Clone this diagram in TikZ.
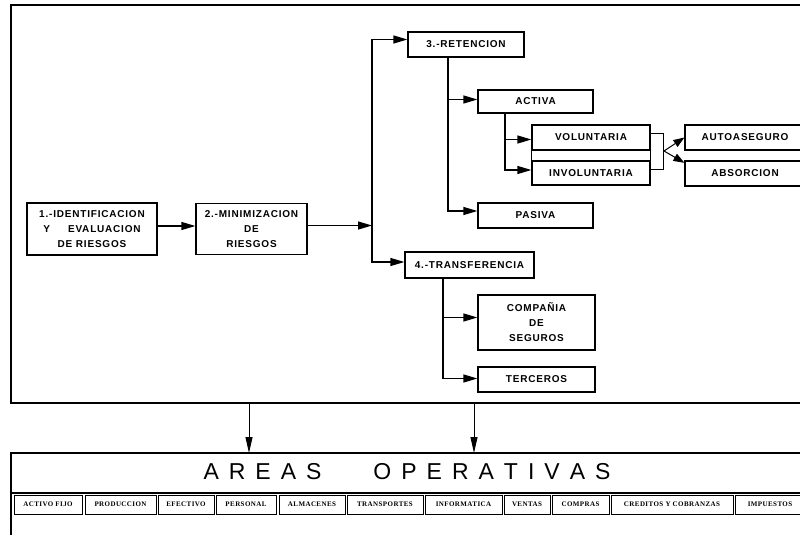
\documentclass[tikz,border=0pt]{standalone}
\usepackage{fontspec}
\setmainfont{Liberation Sans}
\newfontfamily\boxfont[LetterSpace=8]{Liberation Sans}
\newfontfamily\cellfont[LetterSpace=6]{Liberation Serif}
\newfontfamily\titlefont{Liberation Sans}
\usetikzlibrary{arrows.meta}
\tikzset{
  stagebox/.style={draw, line width=1.2pt, inner sep=0pt, align=center,
    font=\boxfont\bfseries\fontsize{10}{15}\selectfont},
  cellbox/.style={draw, line width=1pt, inner sep=0pt, minimum height=19pt,
    font=\cellfont\bfseries\fontsize{7}{7}\selectfont},
  ln/.style={line width=1.2pt},
  thinln/.style={line width=1pt},
  frameln/.style={line width=1.5pt},
  arr/.style={line width=1.2pt, -{Triangle[length=14pt,width=8pt]}},
  arrsmall/.style={line width=1pt, -{Triangle[length=11pt,width=8pt]}},
  arrdown/.style={line width=1pt, -{Triangle[length=16pt,width=7pt]}}
}
\begin{document}
\begin{tikzpicture}[x=1pt,y=-1pt]
\useasboundingbox (0,0) rectangle (800,535);
\clip (0,0) rectangle (800,535);

% outer frames
\draw[frameln] (11,5) rectangle (830,403);
\draw[frameln] (11,453) rectangle (830,570);
\draw[frameln] (11,493) -- (830,493);

% process stages
\node[stagebox, minimum width=130pt, minimum height=52pt] (n1) at (92,229)
  {1.-IDENTIFICACION\\Y\hspace{18pt}EVALUACION\\DE RIESGOS};
\node[stagebox, minimum width=111pt, minimum height=51pt] (n2) at (251.5,229)
  {2.-MINIMIZACION\\DE\\RIESGOS};
\node[stagebox, minimum width=116pt, minimum height=25pt] (ret) at (466,44.5) {3.-RETENCION};
\node[stagebox, minimum width=129pt, minimum height=26pt] (tra) at (469.5,265) {4.-TRANSFERENCIA};
\node[stagebox, minimum width=115pt, minimum height=23pt] (act) at (535.5,101.5) {ACTIVA};
\node[stagebox, minimum width=115pt, minimum height=25pt] (pas) at (535.5,215.5) {PASIVA};
\node[stagebox, minimum width=118pt, minimum height=25pt] (vol) at (591,137.5) {VOLUNTARIA};
\node[stagebox, minimum width=118pt, minimum height=24pt] (inv) at (591,173) {INVOLUNTARIA};
\node[stagebox, minimum width=120pt, minimum height=25pt] (aut) at (745,137.5) {AUTOASEGURO};
\node[stagebox, minimum width=120pt, minimum height=25pt] (abs) at (745,173.5) {ABSORCION};
\node[stagebox, minimum width=117pt, minimum height=55pt] (com) at (536.5,322.5)
  {COMPAÑIA\\DE\\SEGUROS};
\node[stagebox, minimum width=117pt, minimum height=25pt] (ter) at (536.5,379.5) {TERCEROS};

% bus points
\coordinate (b1m) at (372,225.5);
\coordinate (b1t) at (372,39.5);
\coordinate (b1b) at (372,262);
\coordinate (r1) at (448,99.5);
\coordinate (r2) at (448,211);
\coordinate (a1) at (505,139.5);
\coordinate (a2) at (505,170);
\coordinate (t1) at (443,317.5);
\coordinate (t2) at (443,378.5);
\coordinate (k1) at (663,133);
\coordinate (k2) at (663,169);
\coordinate (fork) at (664,151);

% connectors
\draw[arr] ([yshift=3pt]n1.east) -- ([yshift=3pt]n2.west);
\draw[arr] (n2.east |- b1m) -- (b1m);
\draw[arr] (b1b) -- (b1t) -- (b1t -| ret.west);
\draw[arr] (b1t) -- (b1b) -- (b1b -| tra.west);

\draw[ln] (ret.south -| r1) -- (r2);
\draw[arr] (r1) -- (r1 -| act.west);
\draw[arr] (ret.south -| r2) -- (r2) -- (r2 -| pas.west);

\draw[ln] (act.south -| a1) -- (a2);
\draw[arr] (a1) -- (a1 -| vol.west);
\draw[arr] (act.south -| a2) -- (a2) -- (a2 -| inv.west);

\draw[ln] (tra.south -| t1) -- (t2);
\draw[arr] (t1) -- (t1 -| com.west);
\draw[arr] (tra.south -| t2) -- (t2) -- (t2 -| ter.west);

\draw[ln] (vol.south west) -- (inv.north west);
\draw[ln] (vol.south east) -- (inv.north east);
\draw[thinln] (vol.east |- k1) -- (k1) -- (k2) -- (inv.east |- k2);
\draw[arrsmall] (fork) -- (aut.west);
\draw[arrsmall] (fork) -- (abs.170);

% arrows down to the operating areas
\coordinate (d1a) at (249,403);
\coordinate (d1b) at (249,453);
\coordinate (d2a) at (474,403);
\coordinate (d2b) at (474,453);
\draw[arrdown] (d1a) -- (d1b);
\draw[arrdown] (d2a) -- (d2b);

% operating areas
\node[font=\titlefont\fontsize{23}{23}\selectfont] (title) at (407,472)
  {A\kern10pt R\kern10pt E\kern10pt A\kern10pt S\kern52pt O\kern10pt P\kern10pt E\kern10pt R\kern10pt A\kern10pt T\kern10pt I\kern10pt V\kern10pt A\kern10pt S};

\node[cellbox, minimum width=68pt] (c1) at (48,504.5) {ACTIVO FIJO};
\node[cellbox, minimum width=71pt] (c2) at (120.5,504.5) {PRODUCCION};
\node[cellbox, minimum width=56pt] (c3) at (186,504.5) {EFECTIVO};
\node[cellbox, minimum width=60pt] (c4) at (246,504.5) {PERSONAL};
\node[cellbox, minimum width=66pt] (c5) at (312,504.5) {ALMACENES};
\node[cellbox, minimum width=76pt] (c6) at (385,504.5) {TRANSPORTES};
\node[cellbox, minimum width=77pt] (c7) at (463.5,504.5) {INFORMATICA};
\node[cellbox, minimum width=46pt] (c8) at (527,504.5) {VENTAS};
\node[cellbox, minimum width=57pt] (c9) at (580.5,504.5) {COMPRAS};
\node[cellbox, minimum width=122pt] (c10) at (672,504.5) {CREDITOS Y COBRANZAS};
\node[cellbox, minimum width=70pt] (c11) at (770,504.5) {IMPUESTOS};
\end{tikzpicture}
\end{document}
